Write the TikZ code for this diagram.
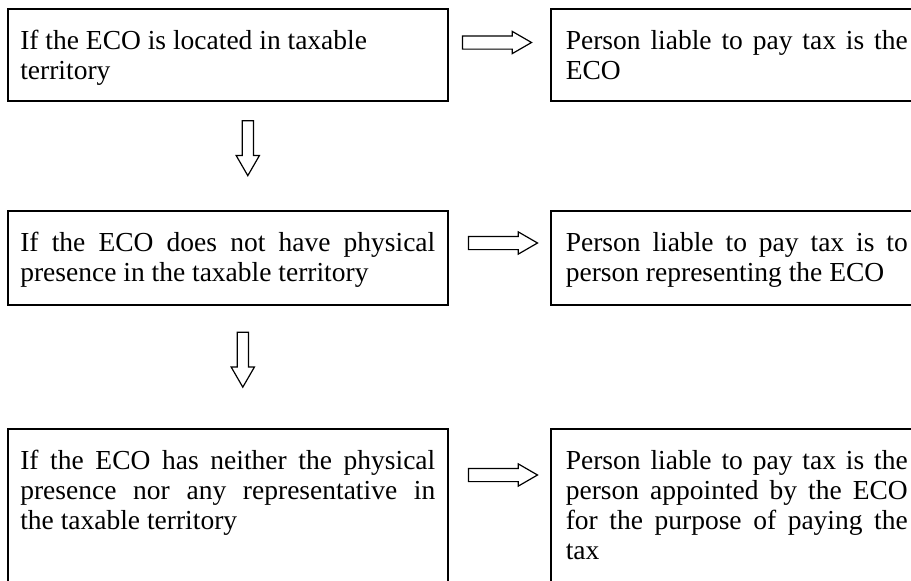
\documentclass[tikz,border=0pt]{standalone}
\usepackage{fontspec}
\setmainfont{Liberation Serif}
\usetikzlibrary{calc,shapes.arrows}

\tikzset{
  cond/.style={draw, line width=1.6pt, anchor=north west, text width=415pt,
    inner xsep=12.5pt, inner ysep=22pt, text height=19pt, align=justify,
    font={\fontsize{27.5}{30}\selectfont}},
  result/.style={cond, text width=342pt, inner xsep=15pt},
  hollow/.style={single arrow, draw, line width=1.2pt, fill=white, inner xsep=0pt,
    single arrow tip angle=60, single arrow head indent=0pt},
  harrow/.style={hollow, minimum height=69pt, inner ysep=6pt, single arrow head extend=4.5pt},
  varrow/.style={hollow, rotate=-90, minimum height=55pt, inner ysep=5pt, single arrow head extend=6pt},
}

\begin{document}
\begin{tikzpicture}[x=1pt,y=-1pt]
  \useasboundingbox (0,0) rectangle (911,581);
  \clip (0,0) rectangle (911,581);

  % conditions, left column
  \node[cond, text depth=29pt] (q1) at (7,8) {If the ECO is located in taxable\newline territory};
  \node[cond, text depth=31pt] (q2) at (7,210) {If the ECO does not have physical\linebreak presence in the taxable territory};
  \node[cond, text depth=150pt] (q3) at (7,428) {If the ECO has neither the physical\linebreak presence nor any representative in\linebreak the taxable territory};

  % person liable, right column (runs past the edge)
  \node[result, text depth=29pt] (r1) at (550,8) {Person liable to pay tax is the\linebreak ECO};
  \node[result, text depth=31pt] (r2) at (550,210) {Person liable to pay tax is to\linebreak person representing the ECO};
  \node[result, text depth=150pt] (r3) at (550,428) {Person liable to pay tax is the\linebreak person appointed by the ECO\linebreak for the purpose of paying the\linebreak tax};

  % block arrows
  \node[harrow] (a1) at ($(q1.north east)!0.5!(r1.north west)+(-8,34.5)$) {};
  \node[harrow] (a2) at ($(q2.north east)!0.5!(r2.north west)+(-2,33)$) {};
  \node[harrow] (a3) at ($(q3.north east)!0.5!(r3.north west)+(-2,47)$) {};
  \node[varrow] (d1) at ($(q1.south)!0.5!(q2.north)+(20,-12.5)$) {};
  \node[varrow] (d2) at ($(q2.south)!0.5!(q3.north)+(15,-12)$) {};
\end{tikzpicture}
\end{document}
